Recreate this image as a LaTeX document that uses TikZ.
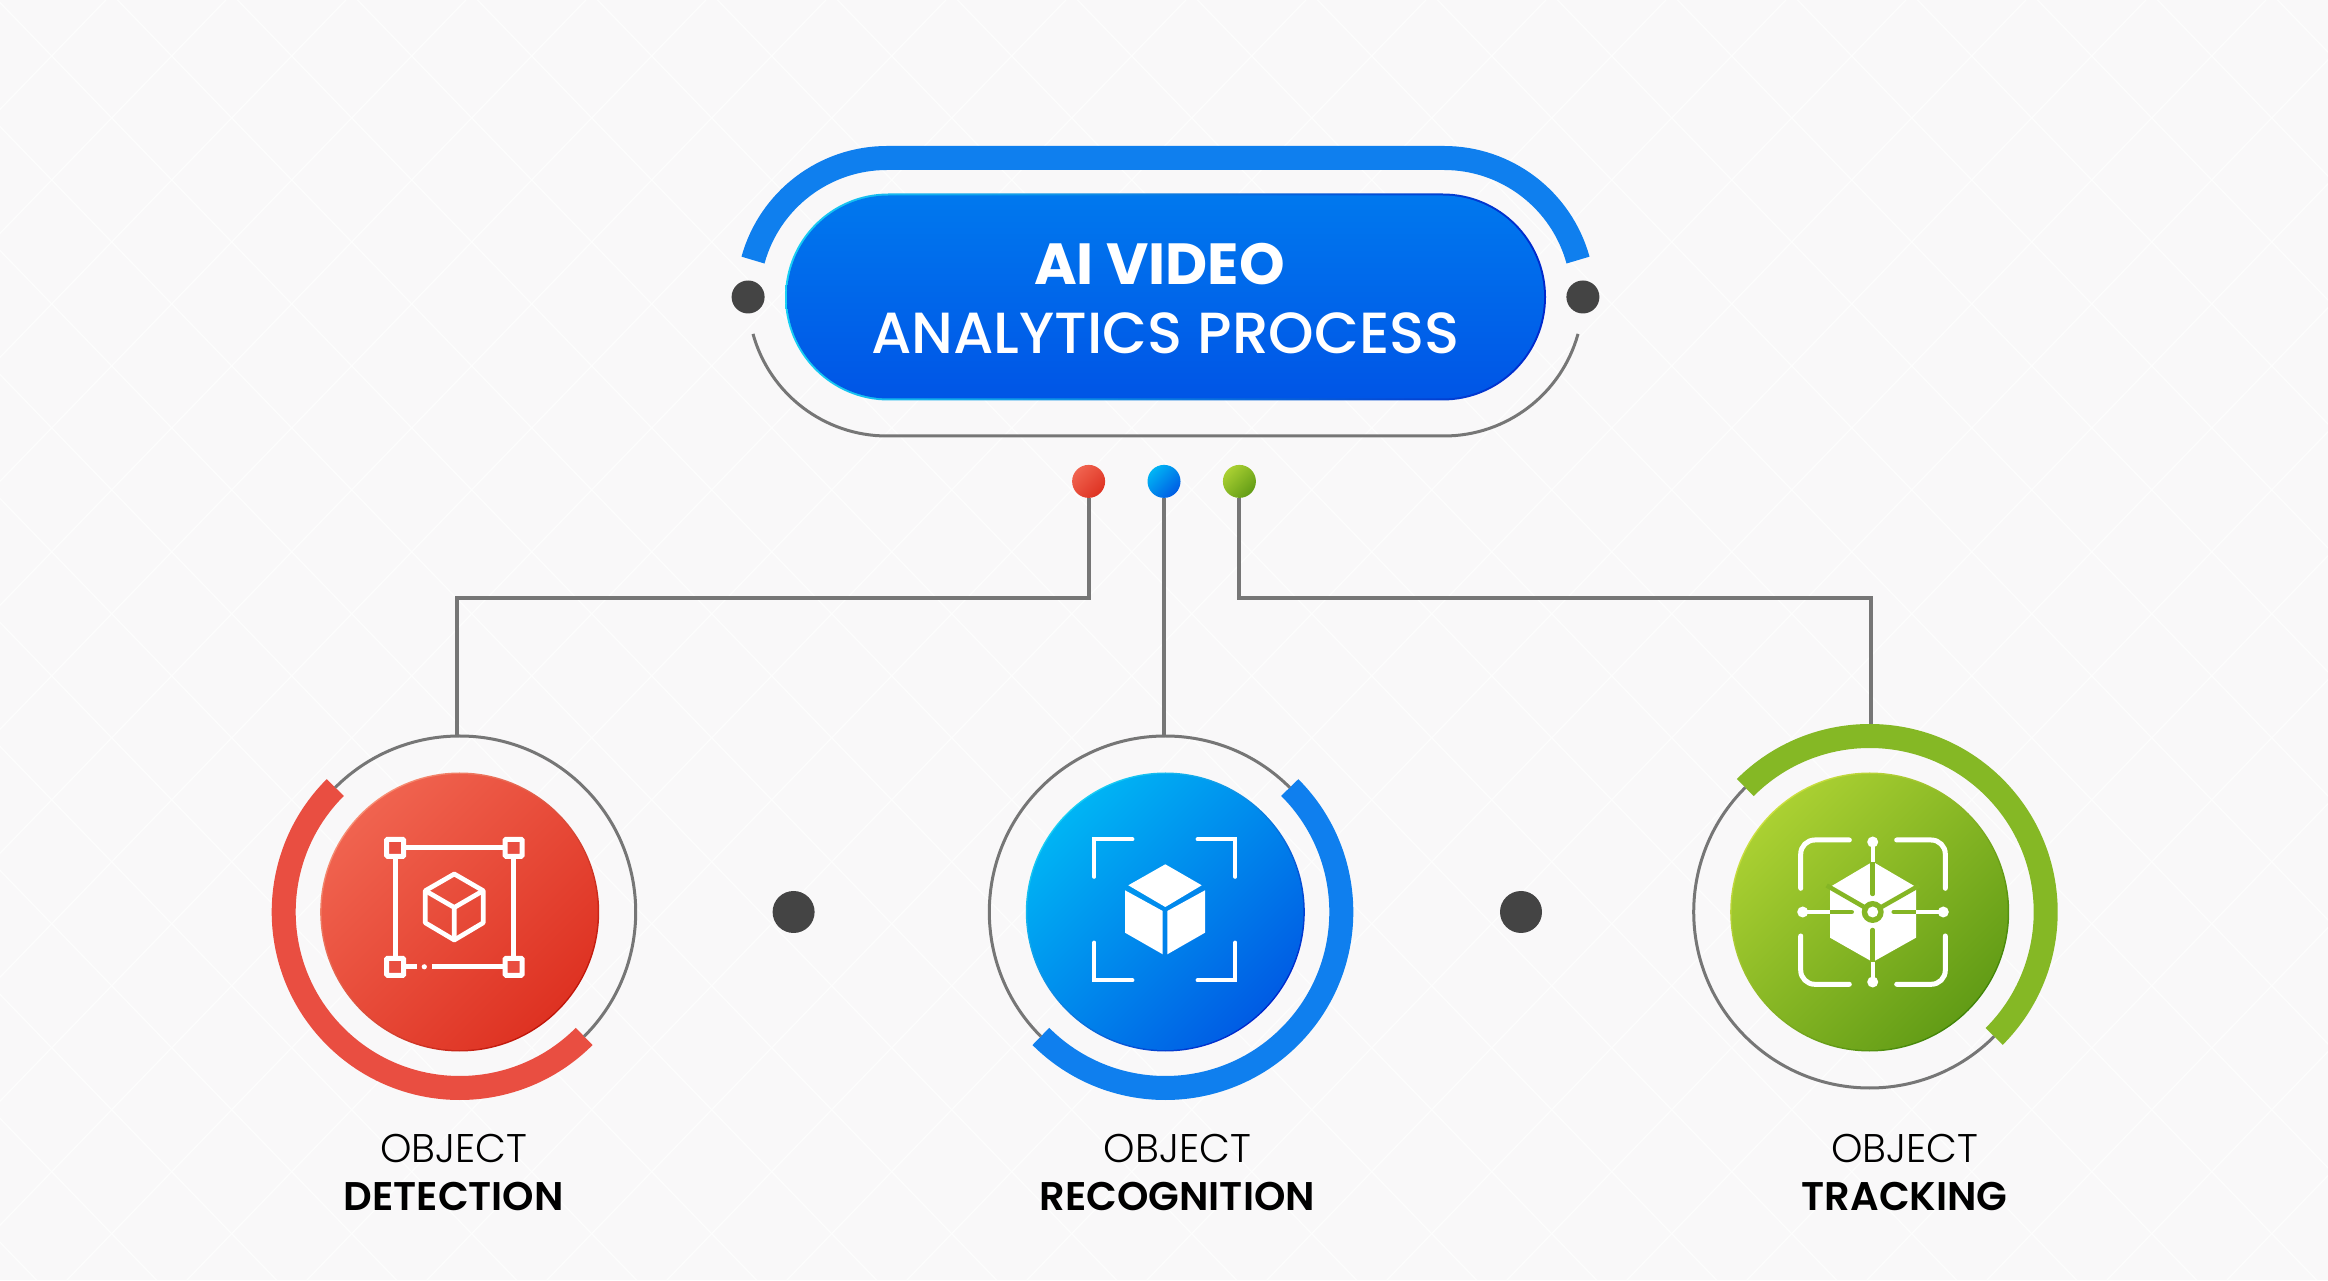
\documentclass[tikz,border=0pt]{standalone}
\usepackage{fontspec}
\setmainfont{Poppins}
\newfontfamily\poplight{Poppins Light}
\newfontfamily\popsemi{Poppins SemiBold}
\newfontfamily\popmedium{Poppins Medium}
\usetikzlibrary{calc,positioning,shapes.misc}
\definecolor{paper}{HTML}{F9F8F9}
\definecolor{lattice}{HTML}{FDFDFD}
\definecolor{wirecol}{HTML}{767676}
\definecolor{spotcol}{HTML}{444444}
\definecolor{redband}{HTML}{E94E41}
\definecolor{blueband}{HTML}{0F7FEE}
\definecolor{greenband}{HTML}{85B825}
\definecolor{greencut}{HTML}{85B625}
\definecolor{redhi}{HTML}{F0634F}
\definecolor{redlo}{HTML}{DE3222}
\definecolor{redrimhi}{HTML}{F78E74}
\definecolor{redrimlo}{HTML}{C01408}
\definecolor{bluehi}{HTML}{00B4F4}
\definecolor{bluelo}{HTML}{005CE4}
\definecolor{bluerimhi}{HTML}{18D0F4}
\definecolor{bluerimlo}{HTML}{0028CC}
\definecolor{greenhi}{HTML}{AAD032}
\definecolor{greenlo}{HTML}{629C16}
\definecolor{greenrimhi}{HTML}{CCE040}
\definecolor{greenrimlo}{HTML}{408408}
\definecolor{pilltop}{HTML}{0078EE}
\definecolor{pillbot}{HTML}{0055E6}
\tikzset{
    wire/.style={draw=wirecol,line width=4pt},
    ringline/.style={draw=wirecol,line width=3pt},
    band/.style={line width=24pt},
    spot/.style={circle,fill=spotcol,minimum size=33pt,inner sep=0pt},
    pin/.style={circle,minimum size=33pt,inner sep=0pt},
    ringspace/.style={circle,minimum size=352pt,inner sep=0pt},
    disc/.style={circle,minimum size=276pt,inner sep=0pt},
    rim/.style={circle,minimum size=279pt,inner sep=0pt},
    redfill/.style={left color=redhi,right color=redlo,shading angle=45},
    redrim/.style={left color=redrimhi,right color=redrimlo,shading angle=45},
    bluefill/.style={left color=bluehi,right color=bluelo,shading angle=45},
    bluerim/.style={left color=bluerimhi,right color=bluerimlo,shading angle=45},
    greenfill/.style={left color=greenhi,right color=greenlo,shading angle=45},
    greenrim/.style={left color=greenrimhi,right color=greenrimlo,shading angle=45},
    steplabel/.style={align=center,inner sep=0pt,font=\fontsize{40}{48}\selectfont},
    iconline/.style={draw=white,line width=4.7pt},
}
\newcommand{\ringarcs}[3]{%
    \draw[band,#3] ([shift={(#2:176)}]#1.center) arc[start angle=#2,delta angle=180,radius=176];
    \draw[ringline] ([shift={(#2+180:176)}]#1.center) arc[start angle=#2+180,delta angle=180,radius=176];
}
\newcommand{\steptext}[2]{{\poplight #1}\\{\popsemi #2}}

\begin{document}
\begin{tikzpicture}[x=1pt,y=1pt]
    \useasboundingbox (0,0) rectangle (2328,1280);
    \fill[paper] (0,0) rectangle (2328,1280);
    \foreach \k in {-11,...,30} {
        \draw[lattice,line width=1.3pt] ({-2.5+120*\k},1280) -- ({1236.5+120*\k},0);
        \draw[lattice,line width=1.3pt] ({105.9+120*\k},1280) -- ({-1133.1+120*\k},0);
    }

    % title
    \node[rounded rectangle,minimum width=761pt,minimum height=207pt,inner sep=0pt,
        left color=bluerimhi,right color=bluerimlo] (pillrim) at (1165.5,983) {};
    \node[rounded rectangle,minimum width=757pt,minimum height=203pt,inner sep=0pt,
        top color=pilltop,bottom color=pillbot] (pill) at (pillrim.center) {};
    \node[text=white,align=center,inner sep=0pt,yshift=-1.5pt,
        font=\fontsize{58}{69}\selectfont] (pilltext) at (pill.center)
        {\textbf{AI VIDEO}\hspace*{12pt}\\{\popmedium ANALYTICS PROCESS}};
    \coordinate (capL) at ($(pillrim.center)+(-278.5,0)$);
    \coordinate (capR) at ($(pillrim.center)+(278.5,0)$);
    \draw[band,blueband] ([shift={(164.6:139)}]capL) arc[start angle=164.6,end angle=90,radius=139]
        -- ([shift={(90:139)}]capR) arc[start angle=90,end angle=15.4,radius=139];
    \draw[ringline] ([shift={(195.4:139)}]capL) arc[start angle=195.4,end angle=270,radius=139]
        -- ([shift={(270:139)}]capR) arc[start angle=270,end angle=344.6,radius=139];
    \node[spot,left=20pt of pillrim] (spotL) {};
    \node[spot,right=20pt of pillrim] (spotR) {};

    % discs
    \node[rim,redrim] (detectrim) at (459.7,368) {};
    \node[disc,redfill] (detect) at (detectrim) {};
    \node[rim,bluerim] (recogrim) at (1165.3,368) {};
    \node[disc,bluefill] (recog) at (recogrim) {};
    \node[rim,greenrim] (trackrim) at (1869.7,368) {};
    \node[disc,greenfill] (track) at (trackrim) {};
    \node[ringspace] (detectring) at (detect) {};
    \node[ringspace] (recogring) at (recog) {};
    \node[ringspace] (trackring) at (track) {};

    \node[spot,minimum size=42pt] (spotA) at (793.6,368) {};
    \node[spot,minimum size=42pt] (spotB) at (1521,368) {};

    % pins and wires
    \node[pin,bluefill,below=64pt of pillrim,xshift=-1.5pt] (pinB) {};
    \node[pin,redfill,left=42pt of pinB] (pinA) {};
    \node[pin,greenfill,right=42pt of pinB] (pinC) {};
    \draw[wire] (pinA) -- ++(0,-117) -| ([xshift=-2.4pt]detectring.north);
    \draw[wire] (pinB) -- (pinB |- recogring.north);
    \draw[wire] (pinC) -- ++(0,-117) -| ([xshift=1pt]trackring.north);

    \ringarcs{detectring}{135}{redband}
    \ringarcs{recogring}{-135}{blueband}
    \ringarcs{trackring}{-45}{greenband}

    % detection icon
    \begin{scope}[shift={(detect.center)},y=-1pt]
        \draw[iconline] (-64.5,-64.2) -- (53.9,-64.2) -- (53.9,54.8);
        \draw[iconline] (-64.5,-64.2) -- (-64.5,54.8) -- (-43,54.8);
        \draw[iconline] (-27.4,54.8) -- (53.9,54.8);
        \fill[white] (-35.4,54.8) circle (2.6);
        \foreach \cx/\cy in {-64.5/-64.2,53.9/-64.2,-64.5/54.8,53.9/54.8}
            \draw[draw=white,fill=redband,line width=5pt,rounded corners=1pt]
                (\cx-8.5,\cy-8.5) rectangle (\cx+8.5,\cy+8.5);
        \draw[iconline,line join=round] (-5.4,-38) -- (23.5,-21.3) -- (23.5,10.8) -- (-5.4,28)
            -- (-34.4,10.8) -- (-34.4,-21.3) -- cycle;
        \draw[iconline] (-34.4,-21.3) -- (-5.4,-4.5) -- (23.5,-21.3) (-5.4,-4.5) -- (-5.4,28);
    \end{scope}

    % recognition icon
    \begin{scope}[shift={(recog.center)},y=-1pt]
        \draw[draw=white,line width=4.3pt,line cap=round]
            (-71,-35.3) -- (-71,-72.7) -- (-33,-72.7)
            (32.4,-72.7) -- (70,-72.7) -- (70,-35.3)
            (70,30.7) -- (70,68.3) -- (32.4,68.3)
            (-33,68.3) -- (-71,68.3) -- (-71,30.7);
        \fill[white] (0,-47.7) -- (36.4,-26.7) -- (0,-5) -- (-37,-26.7) -- cycle;
        \fill[white] (-40.3,-21.7) -- (-2.6,-1) -- (-2.6,42.3) -- (-40.3,20.7) -- cycle;
        \fill[white] (39.7,-21.7) -- (2,-1) -- (2,42.3) -- (39.7,20.7) -- cycle;
    \end{scope}

    % tracking icon
    \begin{scope}[shift={(track.center)},y=-1pt]
        \draw[draw=white,line width=5pt,line cap=round,rounded corners=14pt]
            (-69,-23.7) -- (-69,-72) -- (-20.4,-72)
            (27,-72) -- (75.6,-72) -- (75.6,-23.7)
            (75.6,24) -- (75.6,72.3) -- (27,72.3)
            (-20.4,72.3) -- (-69,72.3) -- (-69,24);
        \fill[white] (3,-50.3) -- (46.3,-25) -- (46.3,25.7) -- (3,50) -- (-39.7,25.7) -- (-39.7,-25) -- cycle;
        \draw[greencut,line width=4.5pt] (-43,-26.5) -- (3,0) -- (49.5,-26.5);
        \draw[greencut,line width=4.5pt,line cap=round] (3,-50) -- (3,-18) (3,18) -- (3,50)
            (-39.7,0) -- (-18,0) (24,0) -- (46.3,0);
        \draw[white,line width=4pt] (3,-70) -- (3,-50) (3,70) -- (3,50) (-67,0) -- (-39.7,0) (73.6,0) -- (46.3,0);
        \fill[greencut] (3,0) circle (11);
        \fill[white] (3,0) circle (5.5);
        \foreach \cx/\cy in {3/-70,3/70,-67/0,73.6/0}
            \fill[white] (\cx,\cy) circle (5.5);
    \end{scope}

    % labels
    \node[steplabel,below=46pt of detectring,xshift=-6pt] (detectlabel) {\steptext{OBJECT}{DETECTION}};
    \node[steplabel,below=46pt of recogring,xshift=12pt] (recoglabel) {\steptext{OBJECT}{RECOGNITION}};
    \node[steplabel,below=46pt of trackring,xshift=35pt] (tracklabel) {\steptext{OBJECT}{TRACKING}};
\end{tikzpicture}
\end{document}
